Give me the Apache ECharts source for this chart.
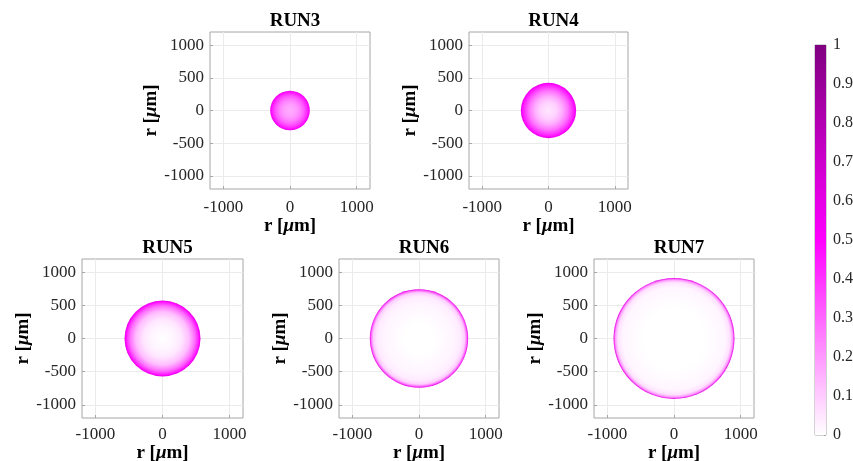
<!DOCTYPE html>
<html>
<head>
<meta charset="utf-8">
<script src="https://cdn.jsdelivr.net/npm/echarts@6/dist/echarts.min.js"></script>
<style>
  html, body { margin: 0; padding: 0; background: #fff; }
  #chart { width: 853px; height: 461px; }
</style>
</head>
<body>
<div id="chart"></div>
<script>
// Droplet runs and their radii (µm)
const runs = ['RUN3', 'RUN4', 'RUN5', 'RUN6', 'RUN7'];
const radii = [300, 420, 570, 740, 910];

// Radial concentration profiles, sampled at fractions of the droplet radius
const profileRadius = [0, 0.3, 0.5, 0.7, 0.85, 0.93, 0.97, 1.0];
const run3Profile = [0.16, 0.19, 0.24, 0.32, 0.41, 0.47, 0.52, 0.62];
const run4Profile = [0.05, 0.09, 0.16, 0.27, 0.39, 0.46, 0.52, 0.62];
const run5Profile = [0.0, 0.02, 0.05, 0.13, 0.28, 0.41, 0.49, 0.62];
const run6Profile = [0.0, 0.0, 0.01, 0.02, 0.04, 0.1, 0.28, 0.6];
const run7Profile = [0.0, 0.0, 0.0, 0.01, 0.02, 0.06, 0.2, 0.6];
const profiles = [run3Profile, run4Profile, run5Profile, run6Profile, run7Profile];

// Axis tick values and colormap
const xTicks = [-1000, 0, 1000];
const yTicks = [-1000, -500, 0, 500, 1000];
const axisMin = -1200, axisMax = 1200;
const cmapStops = [0, 0.5, 1];
const cmapColors = [[255, 255, 255], [255, 0, 255], [128, 0, 128]];

function cmap(v) {
  v = Math.max(0, Math.min(1, v));
  for (let i = 0; i < cmapStops.length - 1; i++) {
    if (v <= cmapStops[i + 1]) {
      const t = (v - cmapStops[i]) / (cmapStops[i + 1] - cmapStops[i]);
      const a = cmapColors[i], b = cmapColors[i + 1];
      const c = a.map((x, k) => Math.round(x + (b[k] - x) * t));
      return 'rgb(' + c.join(',') + ')';
    }
  }
  return 'rgb(' + cmapColors[cmapColors.length - 1].join(',') + ')';
}

const serif = '"Liberation Serif", "Times New Roman", serif';
const tickColor = '#262626';
const boxColor = '#a6a6a6';

// Panel frames (pixels); the lower row sits tighter against the page bottom
const panels = [
  { left: 210, top: 32, width: 160, height: 157, labelGap: 10, nameGap: 26 },
  { left: 469, top: 32, width: 159, height: 157, labelGap: 10, nameGap: 26 },
  { left: 82, top: 259, width: 161, height: 159, labelGap: 8, nameGap: 20 },
  { left: 339, top: 259, width: 160, height: 159, labelGap: 8, nameGap: 20 },
  { left: 594, top: 259, width: 160, height: 159, labelGap: 8, nameGap: 20 }
];

const axisName = '{b|r [}{i|μ}{b|m]}';
const nameStyle = {
  color: '#000',
  rich: {
    b: { fontFamily: serif, fontWeight: 'bold', fontSize: 19, color: '#000' },
    i: { fontFamily: serif, fontStyle: 'italic', fontWeight: 'bold', fontSize: 19, color: '#000' }
  }
};

function makeAxis(gridIndex, isY, p) {
  const ticks = isY ? yTicks : xTicks;
  return {
    type: 'value',
    gridIndex: gridIndex,
    min: axisMin,
    max: axisMax,
    position: isY ? 'left' : 'bottom',
    name: axisName,
    nameLocation: 'middle',
    nameGap: isY ? 47 : p.nameGap,
    nameTextStyle: nameStyle,
    axisLine: { show: false, onZero: false },
    axisTick: { show: true, inside: true, length: 3, customValues: ticks, lineStyle: { color: boxColor } },
    axisLabel: {
      customValues: ticks, hideOverlap: false, color: tickColor, fontFamily: serif, fontSize: 17,
      margin: isY ? 6 : p.labelGap,
      formatter: function (v) { return String(v); }
    },
    splitLine: { show: true, lineStyle: { color: '#ebebeb', width: 1 } }
  };
}

const gridBase = {
  show: true, borderColor: boxColor, borderWidth: 1, backgroundColor: 'transparent',
  containLabel: false, outerBoundsMode: 'none'
};

const grids = [], xAxes = [], yAxes = [], series = [], titles = [];

panels.forEach((p, i) => {
  grids.push(Object.assign({}, gridBase, { left: p.left, top: p.top, width: p.width, height: p.height }));
  xAxes.push(makeAxis(i, false, p));
  yAxes.push(makeAxis(i, true, p));
  titles.push({
    text: runs[i],
    left: p.left + p.width / 2,
    top: p.top - 25,
    textAlign: 'center',
    textStyle: { fontFamily: serif, fontWeight: 'bold', fontSize: 19, color: '#000' }
  });
  const stops = profileRadius.map((f, k) => ({ offset: f, color: cmap(profiles[i][k]) }));
  series.push({
    type: 'custom',
    xAxisIndex: i,
    yAxisIndex: i,
    silent: true,
    data: [[0, 0, radii[i]]],
    renderItem: function (params, api) {
      const c = api.coord([api.value(0), api.value(1)]);
      const ex = api.coord([api.value(0) + api.value(2), api.value(1)]);
      const ey = api.coord([api.value(0), api.value(1) + api.value(2)]);
      const r = (Math.abs(ex[0] - c[0]) + Math.abs(c[1] - ey[1])) / 2;
      return {
        type: 'circle',
        shape: { cx: c[0], cy: c[1], r: r },
        style: { fill: new echarts.graphic.RadialGradient(0.5, 0.5, 0.5, stops) }
      };
    }
  });
});

// Colorbar panel
const cbIndex = panels.length;
grids.push(Object.assign({}, gridBase, { left: 815, top: 45, width: 11, height: 390 }));
xAxes.push({ type: 'value', gridIndex: cbIndex, min: 0, max: 1, show: false });
yAxes.push({
  type: 'value', gridIndex: cbIndex, min: 0, max: 1, interval: 0.1, position: 'right',
  axisLine: { show: false, onZero: false },
  axisTick: { show: true, inside: true, length: 2, lineStyle: { color: boxColor } },
  axisLabel: { color: tickColor, fontFamily: serif, fontSize: 16, margin: 7 },
  splitLine: { show: false }
});
const cbStops = [];
for (let k = 0; k <= 20; k++) cbStops.push({ offset: k / 20, color: cmap(1 - k / 20) });
series.push({
  type: 'custom',
  xAxisIndex: cbIndex,
  yAxisIndex: cbIndex,
  silent: true,
  data: [[0, 0, 1, 1]],
  renderItem: function (params, api) {
    const a = api.coord([api.value(0), api.value(1)]);
    const b = api.coord([api.value(2), api.value(3)]);
    return {
      type: 'rect',
      shape: { x: a[0], y: b[1], width: b[0] - a[0], height: a[1] - b[1] },
      style: { fill: new echarts.graphic.LinearGradient(0, 0, 0, 1, cbStops) }
    };
  }
});

const chart = echarts.init(document.getElementById('chart'), null, { renderer: 'canvas' });
chart.setOption({
  backgroundColor: '#fff',
  animation: false,
  title: titles,
  grid: grids,
  xAxis: xAxes,
  yAxis: yAxes,
  series: series
});
</script>
</body>
</html>
